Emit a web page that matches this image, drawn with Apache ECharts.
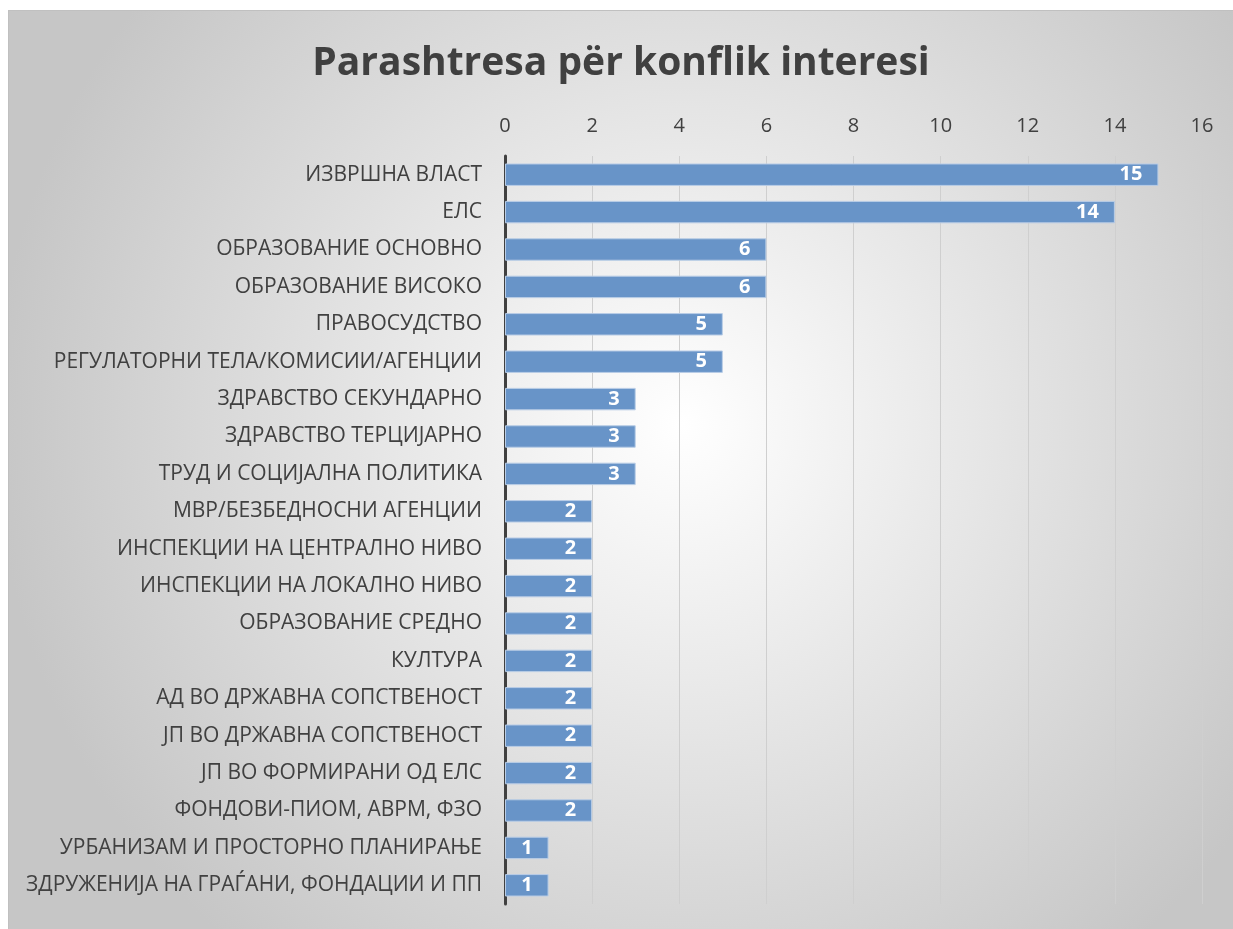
<!DOCTYPE html>
<html>
<head>
<meta charset="utf-8">
<script src="https://cdn.jsdelivr.net/npm/echarts@6/dist/echarts.min.js"></script>
<style>
    html, body { margin: 0; padding: 0; background: #ffffff; }
    #chart-box {
        position: absolute; left: 8px; top: 10px; width: 1225px; height: 919px;
        border-left: 1px solid #c0c0c0; border-top: 1px solid #c0c0c0;
        box-sizing: border-box;
    }
</style>
</head>
<body>
<div id="chart-box"></div>
<script>
(function () {
    'use strict';

    var titleText = 'Parashtresa për konflik interesi';

    var categories = [
        'ИЗВРШНА ВЛАСТ',
        'ЕЛС',
        'ОБРАЗОВАНИЕ ОСНОВНО',
        'ОБРАЗОВАНИЕ ВИСОКО',
        'ПРАВОСУДСТВО',
        'РЕГУЛАТОРНИ ТЕЛА/КОМИСИИ/АГЕНЦИИ',
        'ЗДРАВСТВО СЕКУНДАРНО',
        'ЗДРАВСТВО ТЕРЦИЈАРНО',
        'ТРУД И СОЦИЈАЛНА ПОЛИТИКА',
        'МВР/БЕЗБЕДНОСНИ АГЕНЦИИ',
        'ИНСПЕКЦИИ НА ЦЕНТРАЛНО НИВО',
        'ИНСПЕКЦИИ НА ЛОКАЛНО НИВО',
        'ОБРАЗОВАНИЕ СРЕДНО',
        'КУЛТУРА',
        'АД ВО ДРЖАВНА СОПСТВЕНОСТ',
        'ЈП ВО ДРЖАВНА СОПСТВЕНОСТ',
        'ЈП ВО ФОРМИРАНИ ОД ЕЛС',
        'ФОНДОВИ-ПИОМ, АВРМ, ФЗО',
        'УРБАНИЗАМ И ПРОСТОРНО ПЛАНИРАЊЕ',
        'ЗДРУЖЕНИЈА НА ГРАЃАНИ, ФОНДАЦИИ И ПП'
    ];

    var counts = [15, 14, 6, 6, 5, 5, 3, 3, 3, 2, 2, 2, 2, 2, 2, 2, 2, 2, 1, 1];

    var axisMin = 0;
    var axisMax = 16;
    var axisStep = 2;

    var chart = echarts.init(document.getElementById('chart-box'));

    chart.setOption({
        backgroundColor: {
            type: 'radial', x: 0.55, y: 0.45, r: 0.75,
            colorStops: [
                { offset: 0, color: '#ffffff' },
                { offset: 1, color: '#c6c6c6' }
            ]
        },
        textStyle: { fontFamily: '"Open Sans", "DejaVu Sans", sans-serif' },
        title: {
            text: titleText,
            left: 'center',
            top: 28,
            textStyle: { fontSize: 39, fontWeight: 'bold', color: '#404040' }
        },
        grid: { left: 496, right: 31, top: 145, bottom: 25 },
        xAxis: {
            type: 'value',
            position: 'top',
            min: axisMin, max: axisMax, interval: axisStep,
            axisLine: { show: false },
            axisTick: { show: false },
            axisLabel: { fontSize: 20, color: '#404040', margin: 20 },
            splitLine: { lineStyle: { color: '#cfcfcf', width: 1 } }
        },
        yAxis: {
            type: 'category',
            data: categories,
            inverse: true,
            axisLine: { lineStyle: { color: '#404040', width: 3 } },
            axisTick: { show: false },
            axisLabel: { fontSize: 21, color: '#404040', margin: 23 }
        },
        series: [{
            type: 'bar',
            data: counts,
            barWidth: '60%',
            itemStyle: { color: '#6894c8', borderColor: '#b9cde6', borderWidth: 1 },
            label: {
                show: true,
                position: 'insideRight',
                distance: 16,
                color: '#ffffff',
                fontWeight: 'bold',
                fontSize: 20
            }
        }]
    });
})();
</script>
</body>
</html>
